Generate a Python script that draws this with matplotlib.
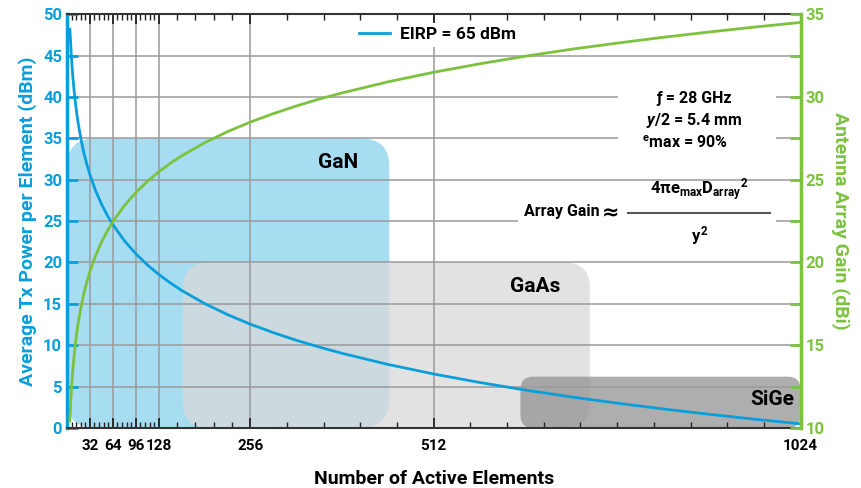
import numpy as np
import matplotlib
matplotlib.use('Agg')
import matplotlib.pyplot as plt
from matplotlib.patches import FancyBboxPatch, Rectangle
from matplotlib.lines import Line2D

# values
elements = [4, 5, 6, 7, 8, 10, 12, 14, 16, 20, 24, 28, 32, 40, 48, 56, 64,
            80, 96, 112, 128, 144, 160, 192, 224, 256, 288, 320, 352, 384,
            448, 512, 576, 640, 704, 768, 832, 896, 960, 1024]
tx_power = [48.20, 46.70, 45.14, 43.80, 42.64, 40.70, 39.12, 37.78, 36.62,
            34.68, 33.10, 31.76, 30.60, 28.66, 27.08, 25.74, 24.58, 22.64,
            21.06, 19.72, 18.56, 17.54, 16.62, 15.04, 13.70, 12.54, 11.52,
            10.60, 9.78, 9.02, 7.68, 6.52, 5.50, 4.58, 3.75, 3.00, 2.30,
            1.66, 1.06, 0.50]
array_gain = [10.42, 11.39, 12.18, 12.85, 13.43, 14.40, 15.19, 15.86, 16.44,
              17.41, 18.20, 18.87, 19.45, 20.42, 21.21, 21.88, 22.46, 23.43,
              24.22, 24.89, 25.47, 25.98, 26.44, 27.23, 27.90, 28.48, 28.99,
              29.45, 29.87, 30.24, 30.91, 31.49, 32.00, 32.46, 32.88, 33.25,
              33.60, 33.92, 34.22, 34.50]

# technology regions: (label, x0, x1, top in dBm, corner radius)
regions = [('GaN', 0, 450, 35, 40), ('GaAs', 162, 730, 20, 36),
           ('SiGe', 633, 1024, 6.2, 18)]
region_colors = ['#a7ddf1', '#d9d9d9', '#8f8f8f']
region_alpha = [1.0, 0.75, 0.72]
region_text = [(378, 32.1), (653, 17.1), (985, 3.4)]

x_ticks = [32, 64, 96, 128, 256, 512, 1024]

blue = '#0a9edb'
green = '#7cc23f'
grid_c = '#9a9a9a'

plt.rcParams['font.family'] = ['Roboto', 'DejaVu Sans']
plt.rcParams['font.weight'] = 'bold'
plt.rcParams['axes.labelweight'] = 'bold'
plt.rcParams['mathtext.fontset'] = 'custom'
plt.rcParams['mathtext.rm'] = 'Roboto:bold'
plt.rcParams['mathtext.it'] = 'Roboto:bold'
plt.rcParams['mathtext.bf'] = 'Roboto:bold'
plt.rcParams['mathtext.sf'] = 'Roboto:bold:italic'

fig = plt.figure(figsize=(8.62, 4.88), dpi=100)
ax = fig.add_axes([0.0777, 0.123, 0.851, 0.848])
ax2 = ax.twinx()

ax.set_xlim(0, 1024)
ax.set_ylim(0, 50)
ax2.set_ylim(10, 35)

# rounded boxes (aspect keeps corners circular on screen)
asp = (733 / 1024) / (414 / 50)
for (lab, x0, x1, top, r), c, a, (tx, ty) in zip(regions, region_colors,
                                                 region_alpha, region_text):
    box = FancyBboxPatch((x0, 0), x1 - x0, top,
                         boxstyle='round,pad=0,rounding_size=%g' % r,
                         mutation_aspect=asp, fc=c, ec='none', alpha=a,
                         zorder=0.2)
    ax.add_patch(box)
    ax.text(tx, ty, lab, ha='center', va='center', fontsize=15, zorder=3)

# grid
ax.set_xticks(x_ticks)
minor = list(np.arange(6.4, 128, 6.4)) + list(np.arange(153.6, 256, 25.6)) + \
    list(np.arange(307.2, 1024, 51.2))
ax.set_xticks(minor, minor=True)
ax.set_yticks(range(0, 51, 5))
ax2.set_yticks(range(10, 36, 5))
ax2.set_yticks(np.arange(12.5, 35, 5), minor=True)
ax.set_axisbelow(True)
ax.grid(True, color=grid_c, lw=1.1, zorder=0.5)

# white masks behind annotation text
ax.add_patch(Rectangle((0.751, 0.66), 0.216, 0.18, transform=ax.transAxes,
                       fc='white', ec='none', zorder=0.6))
ax.add_patch(Rectangle((0.615, 0.45), 0.352, 0.14, transform=ax.transAxes,
                       fc='white', ec='none', zorder=0.6))

ax.plot(elements, tx_power, color=blue, lw=2, zorder=2, label='EIRP = 65 dBm')
ax2.plot(elements, array_gain, color=green, lw=2, zorder=2)

leg = ax.legend(loc='upper center', bbox_to_anchor=(0.505, 1.0), frameon=True,
                fontsize=12.5, handlelength=1.8, handletextpad=0.6,
                borderpad=0.25, fancybox=False)
leg.get_frame().set_edgecolor('none')
leg.get_frame().set_facecolor('white')
leg.get_frame().set_alpha(1)
leg.set_zorder(5)

# annotations
ax.text(0.855, 0.795, 'ƒ = 28 GHz', transform=ax.transAxes, ha='center',
        va='center', fontsize=11.5, zorder=3)
ax.text(0.855, 0.743, r'$\mathsf{y}$/2 = 5.4 mm', transform=ax.transAxes,
        ha='center', va='center', fontsize=11.5, zorder=3)
ax.text(0.842, 0.69, r'$^{\mathrm{e}}$max = 90%', transform=ax.transAxes,
        ha='center', va='center', fontsize=11.5, zorder=3)
ax.text(0.674, 0.522, 'Array Gain', transform=ax.transAxes,
        ha='center', va='center', fontsize=11.5, zorder=3)
ax.text(0.741, 0.519, '≈', transform=ax.transAxes, family='DejaVu Sans',
        ha='center', va='center', fontsize=15, zorder=3)
ax.text(0.862, 0.575, r'$4\pi e_{max}D_{array}{}^{2}$', transform=ax.transAxes,
        ha='center', va='center', fontsize=12, zorder=3)
ax.text(0.862, 0.465, r'$y^{2}$', transform=ax.transAxes,
        ha='center', va='center', fontsize=12, zorder=3)
ax.add_line(Line2D([0.765, 0.959], [0.519, 0.519], transform=ax.transAxes,
                   color='#555555', lw=1.5, zorder=3))

# spines and ticks
ax.spines['left'].set_color(blue)
ax.spines['left'].set_linewidth(2.5)
ax2.spines['left'].set_visible(False)
ax2.spines['right'].set_color(green)
ax2.spines['right'].set_linewidth(2.5)
ax.spines['right'].set_visible(False)
for sp in ['top', 'bottom']:
    ax.spines[sp].set_color('#333333')
    ax.spines[sp].set_linewidth(1.5)
ax2.spines['top'].set_visible(False)
ax2.spines['bottom'].set_visible(False)

ax.tick_params(axis='x', which='both', direction='in', top=True, color='#222222',
               labelsize=11, pad=8)
ax.tick_params(axis='x', which='major', length=7, width=1.3)
ax.tick_params(axis='x', which='minor', length=4, width=1.0)
ax.tick_params(axis='y', direction='in', length=8, width=2, color=blue,
               labelcolor=blue, labelsize=12)
ax2.tick_params(axis='y', which='both', direction='in', length=8, width=2,
                color=green, labelcolor=green, labelsize=12)
ax2.tick_params(axis='y', which='minor', labelright=False)
for lbl in ax.get_xticklabels() + ax.get_yticklabels() + ax2.get_yticklabels():
    lbl.set_fontweight('bold')

ax.set_xlabel('Number of Active Elements', fontsize=14, labelpad=12)
ax.set_ylabel('Average Tx Power per Element (dBm)', fontsize=14, color=blue,
              labelpad=4)
ax2.set_ylabel('Antenna Array Gain (dBi)', fontsize=14, color=green,
               rotation=270, labelpad=18)

fig.savefig('out.png', dpi=100)
